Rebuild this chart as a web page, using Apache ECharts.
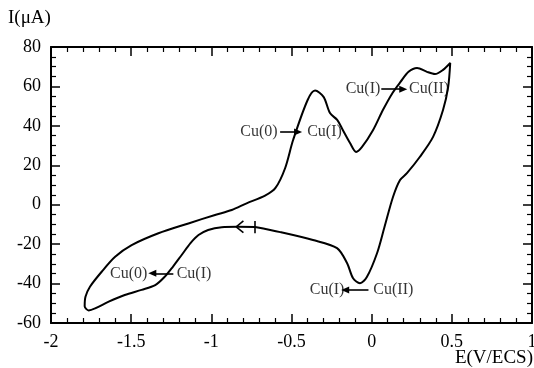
<!DOCTYPE html>
<html>
<head>
<meta charset="utf-8">
<script src="https://cdn.jsdelivr.net/npm/echarts@6/dist/echarts.min.js"></script>
<style>
  html, body { margin: 0; padding: 0; background: #fff; }
  #chart { width: 534px; height: 368px; }
</style>
</head>
<body>
<div id="chart"></div>
<script>
// Cyclic voltammogram: potential E (V/ECS) and current I (µA), in scan order
const potentialE = [
  -0.727, -0.84, -0.935, -1.02, -1.08, -1.13, -1.185, -1.24, -1.29, -1.35,
  -1.435, -1.54, -1.64, -1.725, -1.765, -1.79, -1.785, -1.757, -1.684, -1.60,
  -1.497, -1.33, -1.143, -0.977, -0.873, -0.78, -0.665, -0.60, -0.54, -0.49, -0.40,
  -0.353, -0.30, -0.26, -0.215, -0.18, -0.135, -0.097, -0.06, 0.009, 0.07,
  0.13, 0.18, 0.23, 0.283, 0.345, 0.395, 0.445, 0.49, 0.477, 0.445,
  0.383, 0.30, 0.22, 0.177, 0.133, 0.08, 0.034, -0.03, -0.073, -0.116,
  -0.153, -0.216, -0.366, -0.57, -0.727
];
const currentI = [
  -11.3, -11.2, -11.4, -12.8, -15.4, -19.5, -25.5, -31.5, -36.5, -40.8,
  -43.2, -45.8, -49.2, -52.6, -53.6, -51.5, -46.7, -41.6, -34.0, -26.4,
  -20.5, -14.5, -9.5, -5.2, -2.7, 0.7, 4.6, 8.5, 18.5, 32.8, 53.0,
  57.9, 54.7, 46.5, 43.0, 37.9, 31.3, 26.8, 29.3, 37.9, 48.0,
  56.7, 62.3, 67.4, 69.4, 67.4, 66.3, 68.4, 71.9, 59.7, 48.0,
  34.4, 24.2, 16.0, 12.5, 3.9, -11.3, -24.5, -36.7, -39.8, -37.3,
  -29.7, -22.0, -17.9, -13.9, -11.3
];

// Axis ranges and ticks
const eMin = -2, eMax = 1, eStep = 0.5;
const iMin = -60, iMax = 80, iStep = 20;

// Redox annotations
const noteText = ['Cu(0)', 'Cu(I)', 'Cu(I)', 'Cu(II)', 'Cu(0)', 'Cu(I)', 'Cu(I)', 'Cu(II)'];
const noteE = [-0.703, -0.294, -0.054, 0.358, -1.515, -1.108, -0.278, 0.135];
const noteI = [36.9, 36.9, 58.6, 58.6, -34.8, -34.8, -43.3, -43.3];

// Reaction arrows (tail -> head)
const arrowTailE = [-0.571, 0.06, -1.237, -0.02];
const arrowHeadE = [-0.459, 0.197, -1.368, -0.165];
const arrowI = [36.9, 58.6, -34.8, -43.3];

// Scan start marker and scan direction chevron
const startE = -0.727, startLowI = -14.5, startHighI = -8.3;
const chevTipE = -0.845, chevTipI = -11.2, chevBackE = -0.80, chevSpanI = 3.0;

const serif = '"Liberation Serif", "DejaVu Serif", serif';
const black = '#000';

const curve = potentialE.map((e, k) => [e, currentI[k]]);

const arrowLines = arrowTailE.map((e, k) => [
  { coord: [e, arrowI[k]], symbol: 'none' },
  { coord: [arrowHeadE[k], arrowI[k]], symbol: 'triangle', symbolSize: [7, 8] }
]);

const markerLines = [
  [{ coord: [startE, startLowI] }, { coord: [startE, startHighI] }],
  [{ coord: [chevBackE, chevTipI + chevSpanI] }, { coord: [chevTipE, chevTipI] }],
  [{ coord: [chevBackE, chevTipI - chevSpanI] }, { coord: [chevTipE, chevTipI] }]
];

function valueAxis(pos, min, max, step, split, showLabels) {
  return {
    type: 'value', position: pos, min: min, max: max, interval: step,
    axisLine: { show: true, onZero: false, lineStyle: { color: black, width: 2 } },
    axisTick: { show: true, inside: true, length: 9, lineStyle: { color: black, width: 1.5 } },
    minorTick: { show: true, splitNumber: split, length: 5, lineStyle: { color: black, width: 1.2 } },
    splitLine: { show: false },
    axisLabel: {
      show: showLabels, color: black, fontFamily: serif, fontSize: 18,
      margin: 10, showMinLabel: true, showMaxLabel: true
    }
  };
}

const chart = echarts.init(document.getElementById('chart'), null, { renderer: 'canvas' });
chart.setOption({
  backgroundColor: '#fff',
  animation: false,
  grid: { left: 51, right: 2, top: 47, bottom: 45, containLabel: false, outerBoundsMode: 'none' },
  xAxis: [
    valueAxis('bottom', eMin, eMax, eStep, 5, true),
    valueAxis('top', eMin, eMax, eStep, 5, false)
  ],
  yAxis: [
    valueAxis('left', iMin, iMax, iStep, 4, true),
    valueAxis('right', iMin, iMax, iStep, 4, false)
  ],
  graphic: [
    { type: 'text', left: 8, top: 9, style: { text: 'I(μA)', font: '19px ' + serif, fill: black } },
    { type: 'text', right: 1, top: 349, style: { text: 'E(V/ECS)', font: '19px ' + serif, fill: black } }
  ],
  series: [
    {
      type: 'line', data: curve, smooth: 0.3, symbol: 'none',
      lineStyle: { color: black, width: 2 },
      markLine: {
        silent: true, symbol: 'none', animation: false,
        lineStyle: { color: black, width: 1.6, type: 'solid' },
        label: { show: false },
        data: markerLines
      }
    },
    {
      type: 'line', data: [], symbol: 'none',
      markLine: {
        silent: true, animation: false,
        lineStyle: { color: black, width: 1.6, type: 'solid' },
        itemStyle: { color: black },
        label: { show: false },
        data: arrowLines
      }
    },
    {
      type: 'scatter', symbolSize: 0,
      itemStyle: { color: black },
      data: noteE.map((e, k) => ({ value: [e, noteI[k]], name: noteText[k] })),
      label: {
        show: true, position: 'inside', formatter: '{b}',
        color: black, fontFamily: serif, fontSize: 16
      }
    }
  ]
});
</script>
</body>
</html>
